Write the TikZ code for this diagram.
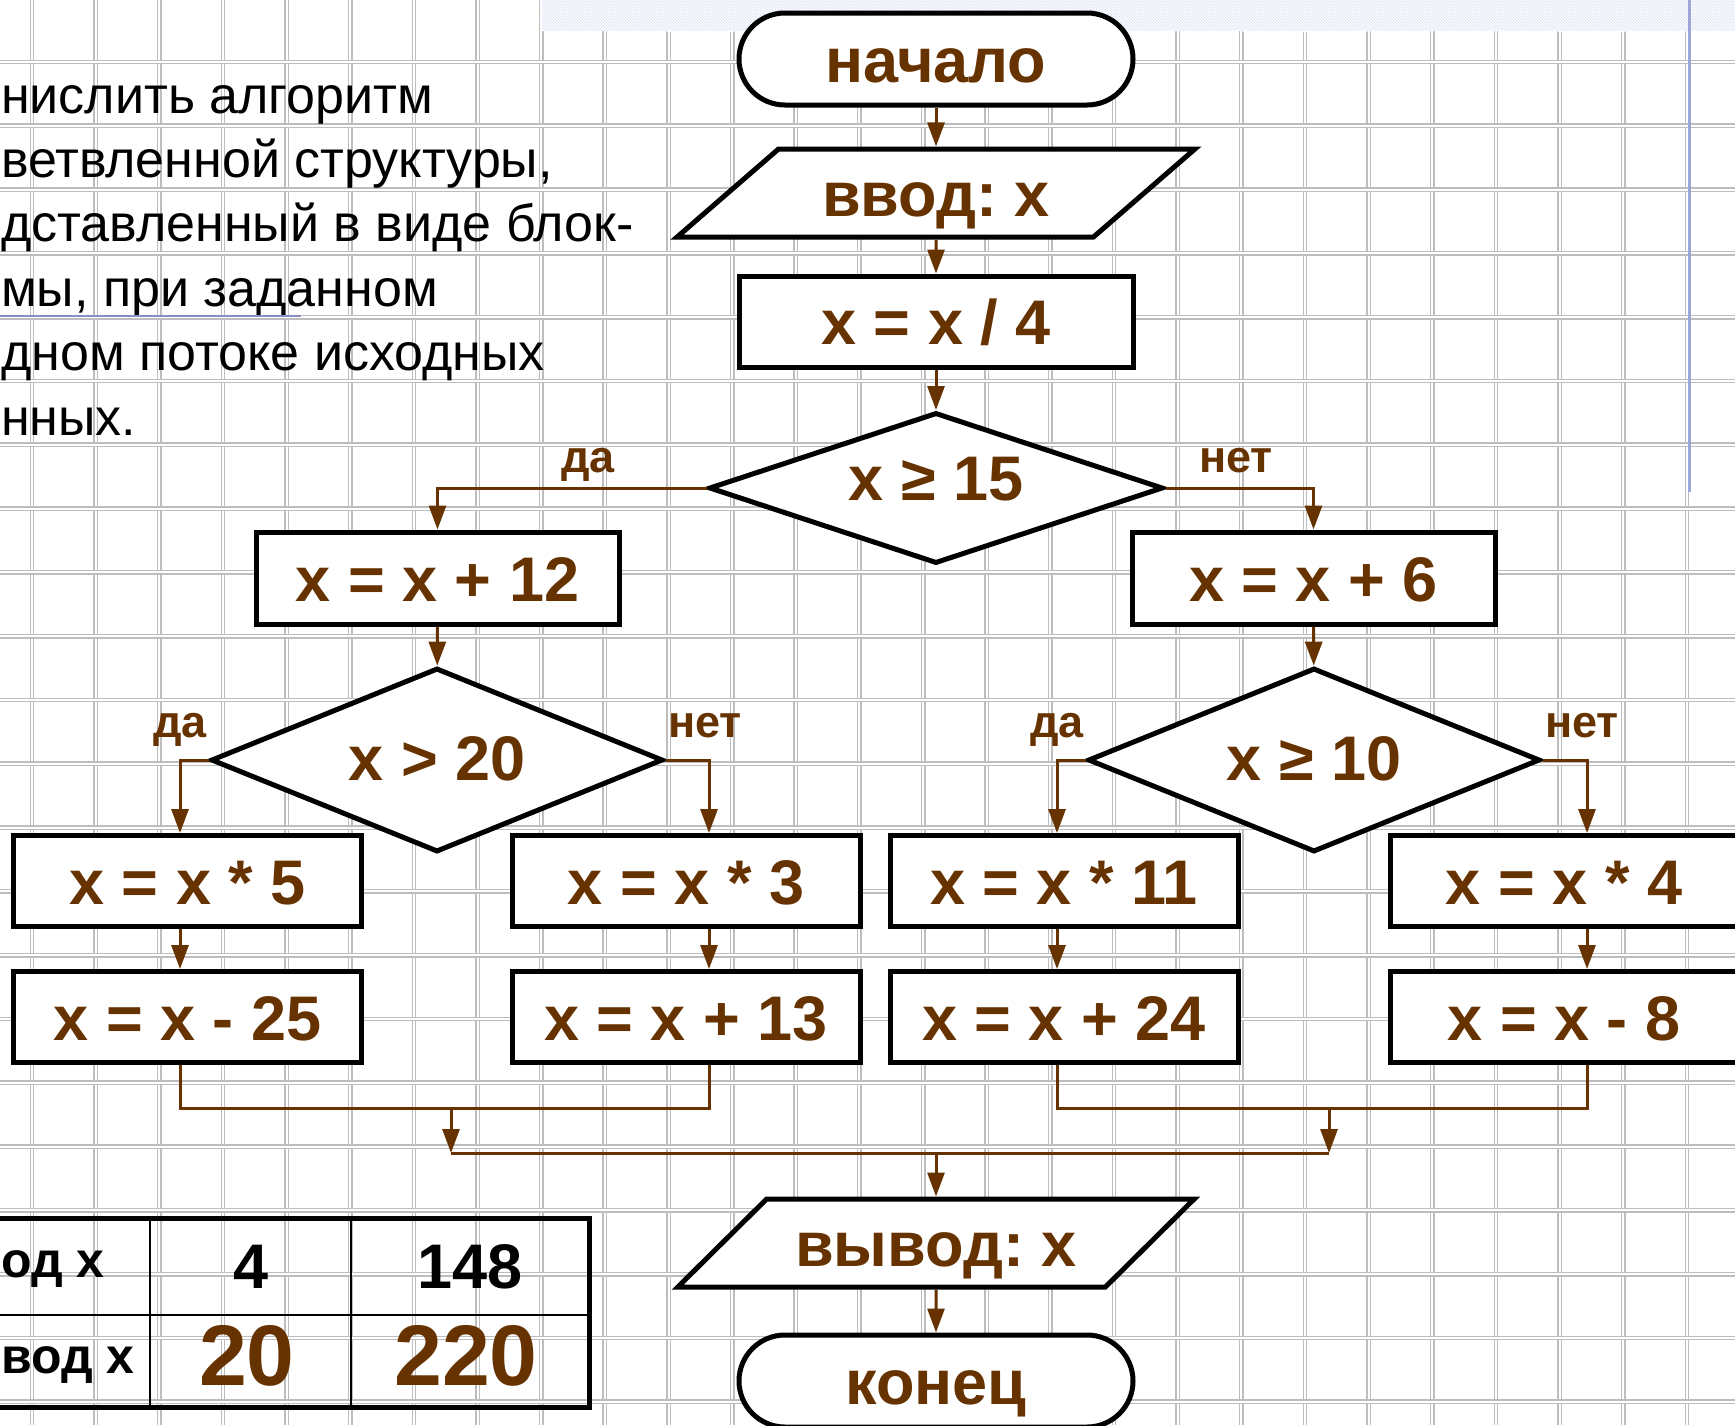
\documentclass[tikz,border=0pt]{standalone}
\usepackage{fontspec}
\setmainfont{Liberation Sans}
\usetikzlibrary{arrows.meta,shapes.geometric,patterns}
\definecolor{brn}{HTML}{663300}
\definecolor{gridgray}{HTML}{BDBDBD}
\definecolor{bandblue}{HTML}{DFE7F6}
\definecolor{ruleblue}{HTML}{9CA6D8}
\definecolor{linkblue}{HTML}{8C8CC4}
\frenchspacing

\tikzset{
  blk/.style={draw=black, line width=5pt, fill=white, text=brn, font=\fontsize{63}{70}\selectfont\bfseries,
    text height=52pt, text depth=6pt, inner sep=4pt},
  term/.style={blk, rounded corners=46pt, minimum width=394pt, minimum height=92pt},
  proc/.style={blk, rectangle, minimum width=348pt, minimum height=91pt},
  io/.style={blk, trapezium, trapezium left angle=41, trapezium right angle=139,
    trapezium stretches=true, minimum width=518pt, minimum height=88pt},
  cond/.style={blk, diamond, aspect=3, minimum width=454pt, minimum height=151pt},
  flow/.style={draw=brn, line width=3pt, -{Triangle[length=24pt,width=17pt]}},
  link/.style={draw=brn, line width=3pt},
  yesno/.style={text=brn, font=\fontsize{45}{50}\selectfont\bfseries, anchor=base, inner sep=0pt},
  cell/.style={font=\fontsize{50}{55}\selectfont\bfseries, anchor=base west, inner sep=0pt},
  num/.style={font=\fontsize{63}{70}\selectfont\bfseries, anchor=base, inner sep=0pt},
  res/.style={num, text=brn, font=\fontsize{86}{90}\selectfont\bfseries},
  gridline/.style={draw=gridgray, line width=1.4pt, double=white, double distance=2pt}
}

\begin{document}
\begin{tikzpicture}[x=1pt,y=-1pt]
      \useasboundingbox (0,0) rectangle (1735,1425);
      \fill[white] (0,0) rectangle (1735,1425);
      \foreach \i in {0,...,26}
        \draw[gridline] ({32+63.65*\i},0) -- ({32+63.65*\i},1425);
      \foreach \j in {0,...,21}
        \draw[gridline] (0,{62+63.8*\j}) -- (1735,{62+63.8*\j});
      \fill[bandblue] (542,0) rectangle (1735,31);
      \fill[pattern=crosshatch, pattern color=white] (542,0) rectangle (1735,31);
      \draw[ruleblue, line width=3pt] (1689,0) -- (1689,492);

      \node[anchor=base west, align=left, inner sep=0pt, font=\fontsize{52}{64.4}\selectfont] (task) at (1,435)
        {нислить алгоритм\\ветвленной структуры,\\дставленный в виде блок-\\мы, при заданном\\дном потоке исходных\\нных.};
      \draw[linkblue, line width=2.5pt] (0,316) -- (301,316);

      \node[term] (start) at (936,59) {начало};
      \node[io] (in) at (936,193) {ввод: x};
      \node[proc, minimum width=394pt] (div) at (936,321.5) {x = x / 4};
      \node[cond, text height=44pt, text depth=20pt] (c1) at (936,488) {x ≥ 15};
      \node[proc, minimum width=363pt, minimum height=92pt] (p12) at (437.5,578) {x = x + 12};
      \node[proc, minimum width=363pt, minimum height=92pt] (p6) at (1313.5,578) {x = x + 6};
      \node[cond, aspect=2.5, minimum width=452pt, minimum height=184pt, text height=46pt] (c2) at (437,760) {x > 20};
      \node[cond, aspect=2.5, minimum width=452pt, minimum height=184pt, text height=46pt] (c3) at (1314,760) {x ≥ 10};
      \node[proc] (m5) at (187.5,881) {x = x * 5};
      \node[proc] (m3) at (686,881) {x = x * 3};
      \node[proc] (m11) at (1064,881) {x = x * 11};
      \node[proc] (m4) at (1564,881) {x = x * 4};
      \node[proc] (s25) at (187.5,1017) {x = x - 25};
      \node[proc] (a13) at (686,1017) {x = x + 13};
      \node[proc] (a24) at (1064,1017) {x = x + 24};
      \node[proc] (s8) at (1564,1017) {x = x - 8};
      \node[io] (out) at (936,1243) {вывод: x};
      \node[term] (stop) at (936,1381) {конец};

      \node[yesno] (yes1) at (588,472) {да};
      \node[yesno] (no1) at (1236,472) {нет};
      \node[yesno] (yes2) at (180,737) {да};
      \node[yesno] (no2) at (705,737) {нет};
      \node[yesno] (yes3) at (1057,737) {да};
      \node[yesno] (no3) at (1582,737) {нет};

      \draw[flow] (start) -- (in);
      \draw[flow] (in) -- (div);
      \draw[flow] (div) -- (c1);
      \draw[flow] (c1.west) -| (p12);
      \draw[flow] (c1.east) -| (p6);
      \draw[flow] (p12) -- (c2);
      \draw[flow] (p6) -- (c3);
      \draw[flow] (c2.west) -| ([xshift=-7.5pt]m5.north);
      \draw[flow] (c2.east) -| ([xshift=23pt]m3.north);
      \draw[flow] (c3.west) -| ([xshift=-7pt]m11.north);
      \draw[flow] (c3.east) -| ([xshift=23pt]m4.north);
      \draw[flow] ([xshift=-7.5pt]m5.south) -- ([xshift=-7.5pt]s25.north);
      \draw[flow] ([xshift=23pt]m3.south) -- ([xshift=23pt]a13.north);
      \draw[flow] ([xshift=-7pt]m11.south) -- ([xshift=-7pt]a24.north);
      \draw[flow] ([xshift=23pt]m4.south) -- ([xshift=23pt]s8.north);
      \draw[link] ([xshift=-7.5pt]s25.south) -- ++(0,43) -| ([xshift=23pt]a13.south);
      \draw[link] ([xshift=-7pt]a24.south) -- ++(0,43) -| ([xshift=23pt]s8.south);
      \coordinate (jl) at (451,1108);
      \coordinate (jr) at (1329,1108);
      \coordinate (bus) at (936,1153);
      \draw[flow] (jl) -- (jl |- bus);
      \draw[flow] (jr) -- (jr |- bus);
      \draw[link] (jl |- bus) -- (jr |- bus);
      \draw[flow] (bus) -- (out);
      \draw[flow] (out) -- (stop);

      \draw[line width=5pt] (-5,1218) -- (589,1218) -- (589,1407) -- (-5,1407);
      \draw[line width=2.5pt] (-5,1315) -- (589,1315) (150,1218) -- (150,1407) (351,1218) -- (351,1407);
      \node[cell] (inlbl) at (1,1277) {од x};
      \node[cell] (outlbl) at (1,1373) {вод x};
      \node[num] (in1) at (251,1288) {4};
      \node[num] (in2) at (470,1288) {148};
      \node[res] (out1) at (247,1385) {20};
      \node[res] (out2) at (466,1385) {220};
\end{tikzpicture}
\end{document}
